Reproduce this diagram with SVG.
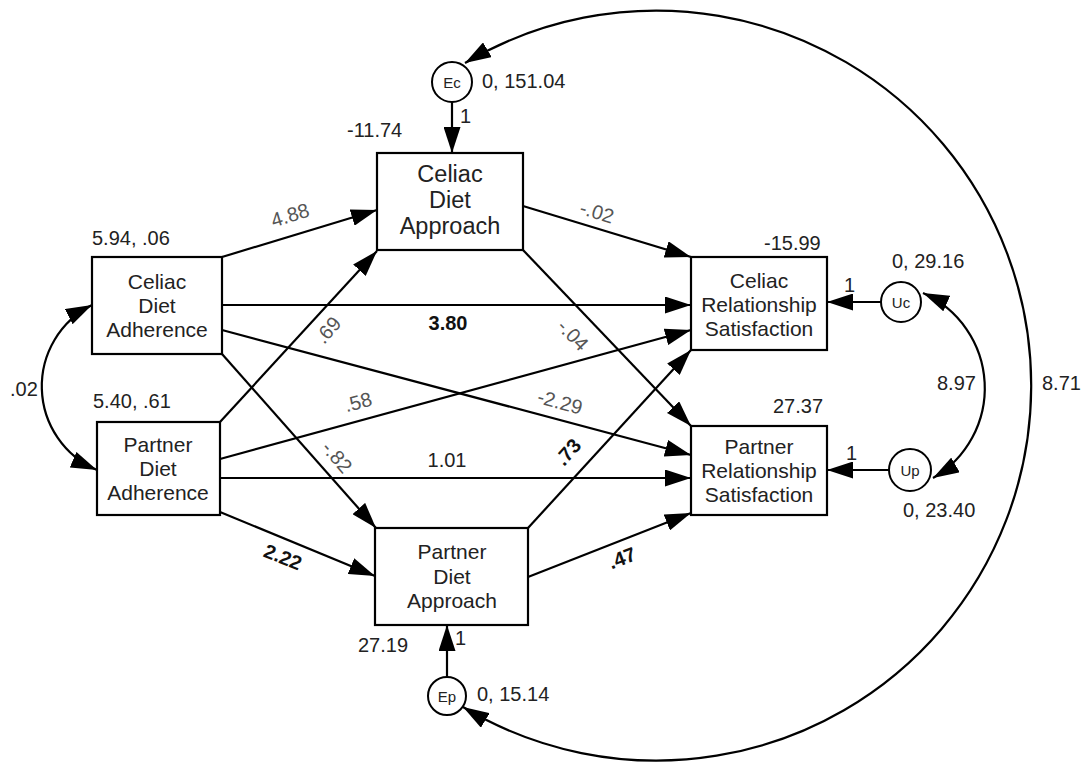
<svg xmlns="http://www.w3.org/2000/svg" width="1088" height="762" viewBox="0 0 1088 762">
<defs>
<marker id="ah" markerUnits="userSpaceOnUse" markerWidth="27" markerHeight="17" refX="26" refY="8.5" orient="auto-start-reverse" viewBox="0 0 27 17">
<path d="M0,0 L26,8.5 L0,17 z" fill="#000"/>
</marker>
<style>
.box{fill:#fff;stroke:#000;stroke-width:2.2}
.circ{fill:#fff;stroke:#000;stroke-width:2}
.ln{fill:none;stroke:#000;stroke-width:2.2;marker-end:url(#ah)}
.dbl{fill:none;stroke:#000;stroke-width:2.2;marker-start:url(#ah);marker-end:url(#ah)}
text{font-family:"Liberation Sans",Arial,sans-serif;fill:#222}
.lbl{font-size:20px}
.nb{font-size:21px;text-anchor:middle}
.nb2{font-size:23.5px;text-anchor:middle}
.cl{font-size:15px;text-anchor:middle;dominant-baseline:central}
.pc{font-size:20px;text-anchor:middle;dominant-baseline:central;fill:#555}
.pb{font-size:20px;text-anchor:middle;dominant-baseline:central;font-weight:bold;fill:#111}
.pn{font-size:20px;text-anchor:middle;dominant-baseline:central;fill:#222}
</style>
</defs>
<rect width="1088" height="762" fill="#fff"/>
<g id="connectors">
<path class="ln" d="M222,257 L377,210"/>
<path class="ln" d="M220,422 L377,251"/>
<path class="ln" d="M222,305 L691,305"/>
<path class="ln" d="M222,330 L691,455"/>
<path class="ln" d="M222,354 L376,528"/>
<path class="ln" d="M220,459 L691,330"/>
<path class="ln" d="M220,478 L691,478"/>
<path class="ln" d="M220,512 L375,576"/>
<path class="ln" d="M523,206 L691,257"/>
<path class="ln" d="M523,250 L691,426"/>
<path class="ln" d="M528,528 L691,350"/>
<path class="ln" d="M528,577 L691,513"/>
<path class="ln" d="M452,102 L452,153"/>
<path class="ln" d="M447,677 L447,625"/>
<path class="ln" d="M881,302 L827,302"/>
<path class="ln" d="M889,470 L827,470"/>
<path class="dbl" d="M92,305 A91,91 0 0 0 97,470"/>
<path class="dbl" d="M923,293 A104,104 0 0 1 933,478"/>
<path class="dbl" d="M465,63 A375,375 0 1 1 463,707"/>
</g>
<g id="labels">
<text class="pc" x="290" y="215" transform="rotate(-17 290 215)">4.88</text>
<text class="pc" x="597" y="212" transform="rotate(17 597 212)">-.02</text>
<text class="pc" x="328" y="330" transform="rotate(-48 328 330)">.69</text>
<text class="pc" x="573" y="335" transform="rotate(46 573 335)">-.04</text>
<text class="pc" x="358" y="402" transform="rotate(-15 358 402)">.58</text>
<text class="pc" x="560" y="402" transform="rotate(15 560 402)">-2.29</text>
<text class="pc" x="337" y="457" transform="rotate(49 337 457)">-.82</text>
<text class="pb" x="568" y="452" transform="rotate(-48 568 452)">.73</text>
<text class="pb" x="283" y="557" transform="rotate(22 283 557)">2.22</text>
<text class="pb" x="622" y="558" transform="rotate(-21 622 558)">.47</text>
<text class="pb" x="448" y="323">3.80</text>
<text class="pn" x="447" y="460">1.01</text>
<text class="lbl" x="10" y="396">.02</text>
<text class="lbl" x="482" y="88">0, 151.04</text>
<text class="lbl" x="460" y="123">1</text>
<text class="lbl" x="347" y="137">-11.74</text>
<text class="lbl" x="92" y="245">5.94, .06</text>
<text class="lbl" x="93" y="408">5.40, .61</text>
<text class="lbl" x="764" y="250">-15.99</text>
<text class="lbl" x="892" y="268">0, 29.16</text>
<text class="lbl" x="844" y="292">1</text>
<text class="lbl" x="937" y="390">8.97</text>
<text class="lbl" x="1042" y="390">8.71</text>
<text class="lbl" x="773" y="413">27.37</text>
<text class="lbl" x="846" y="460">1</text>
<text class="lbl" x="903" y="517">0, 23.40</text>
<text class="lbl" x="358" y="652">27.19</text>
<text class="lbl" x="455" y="645">1</text>
<text class="lbl" x="477" y="701">0, 15.14</text>
</g>
<g id="celiac-diet-approach">
<rect class="box" x="377" y="153" width="146" height="97"/>
<text class="nb2" x="450" y="182">Celiac</text>
<text class="nb2" x="450" y="208">Diet</text>
<text class="nb2" x="450" y="234">Approach</text>
</g>
<g id="celiac-diet-adherence">
<rect class="box" x="92" y="257" width="130" height="97"/>
<text class="nb" x="157" y="289">Celiac</text>
<text class="nb" x="157" y="313">Diet</text>
<text class="nb" x="157" y="337">Adherence</text>
</g>
<g id="partner-diet-adherence">
<rect class="box" x="97" y="422" width="123" height="93"/>
<text class="nb" x="158" y="452">Partner</text>
<text class="nb" x="158" y="476">Diet</text>
<text class="nb" x="158" y="500">Adherence</text>
</g>
<g id="celiac-relationship-satisfaction">
<rect class="box" x="691" y="257" width="136" height="93"/>
<text class="nb" x="759" y="288">Celiac</text>
<text class="nb" x="759" y="312">Relationship</text>
<text class="nb" x="759" y="336">Satisfaction</text>
</g>
<g id="partner-relationship-satisfaction">
<rect class="box" x="691" y="426" width="136" height="89"/>
<text class="nb" x="759" y="454">Partner</text>
<text class="nb" x="759" y="478">Relationship</text>
<text class="nb" x="759" y="502">Satisfaction</text>
</g>
<g id="partner-diet-approach">
<rect class="box" x="375" y="528" width="153" height="97"/>
<text class="nb" x="452" y="559">Partner</text>
<text class="nb" x="452" y="584">Diet</text>
<text class="nb" x="452" y="608">Approach</text>
</g>
<g id="Ec">
<circle class="circ" cx="452" cy="82" r="20"/>
<text class="cl" x="452" y="82">Ec</text>
</g>
<g id="Uc">
<circle class="circ" cx="901" cy="302" r="20"/>
<text class="cl" x="901" y="302">Uc</text>
</g>
<g id="Up">
<circle class="circ" cx="910" cy="470" r="21"/>
<text class="cl" x="910" y="470">Up</text>
</g>
<g id="Ep">
<circle class="circ" cx="447" cy="696" r="19"/>
<text class="cl" x="447" y="696">Ep</text>
</g>
</svg>
